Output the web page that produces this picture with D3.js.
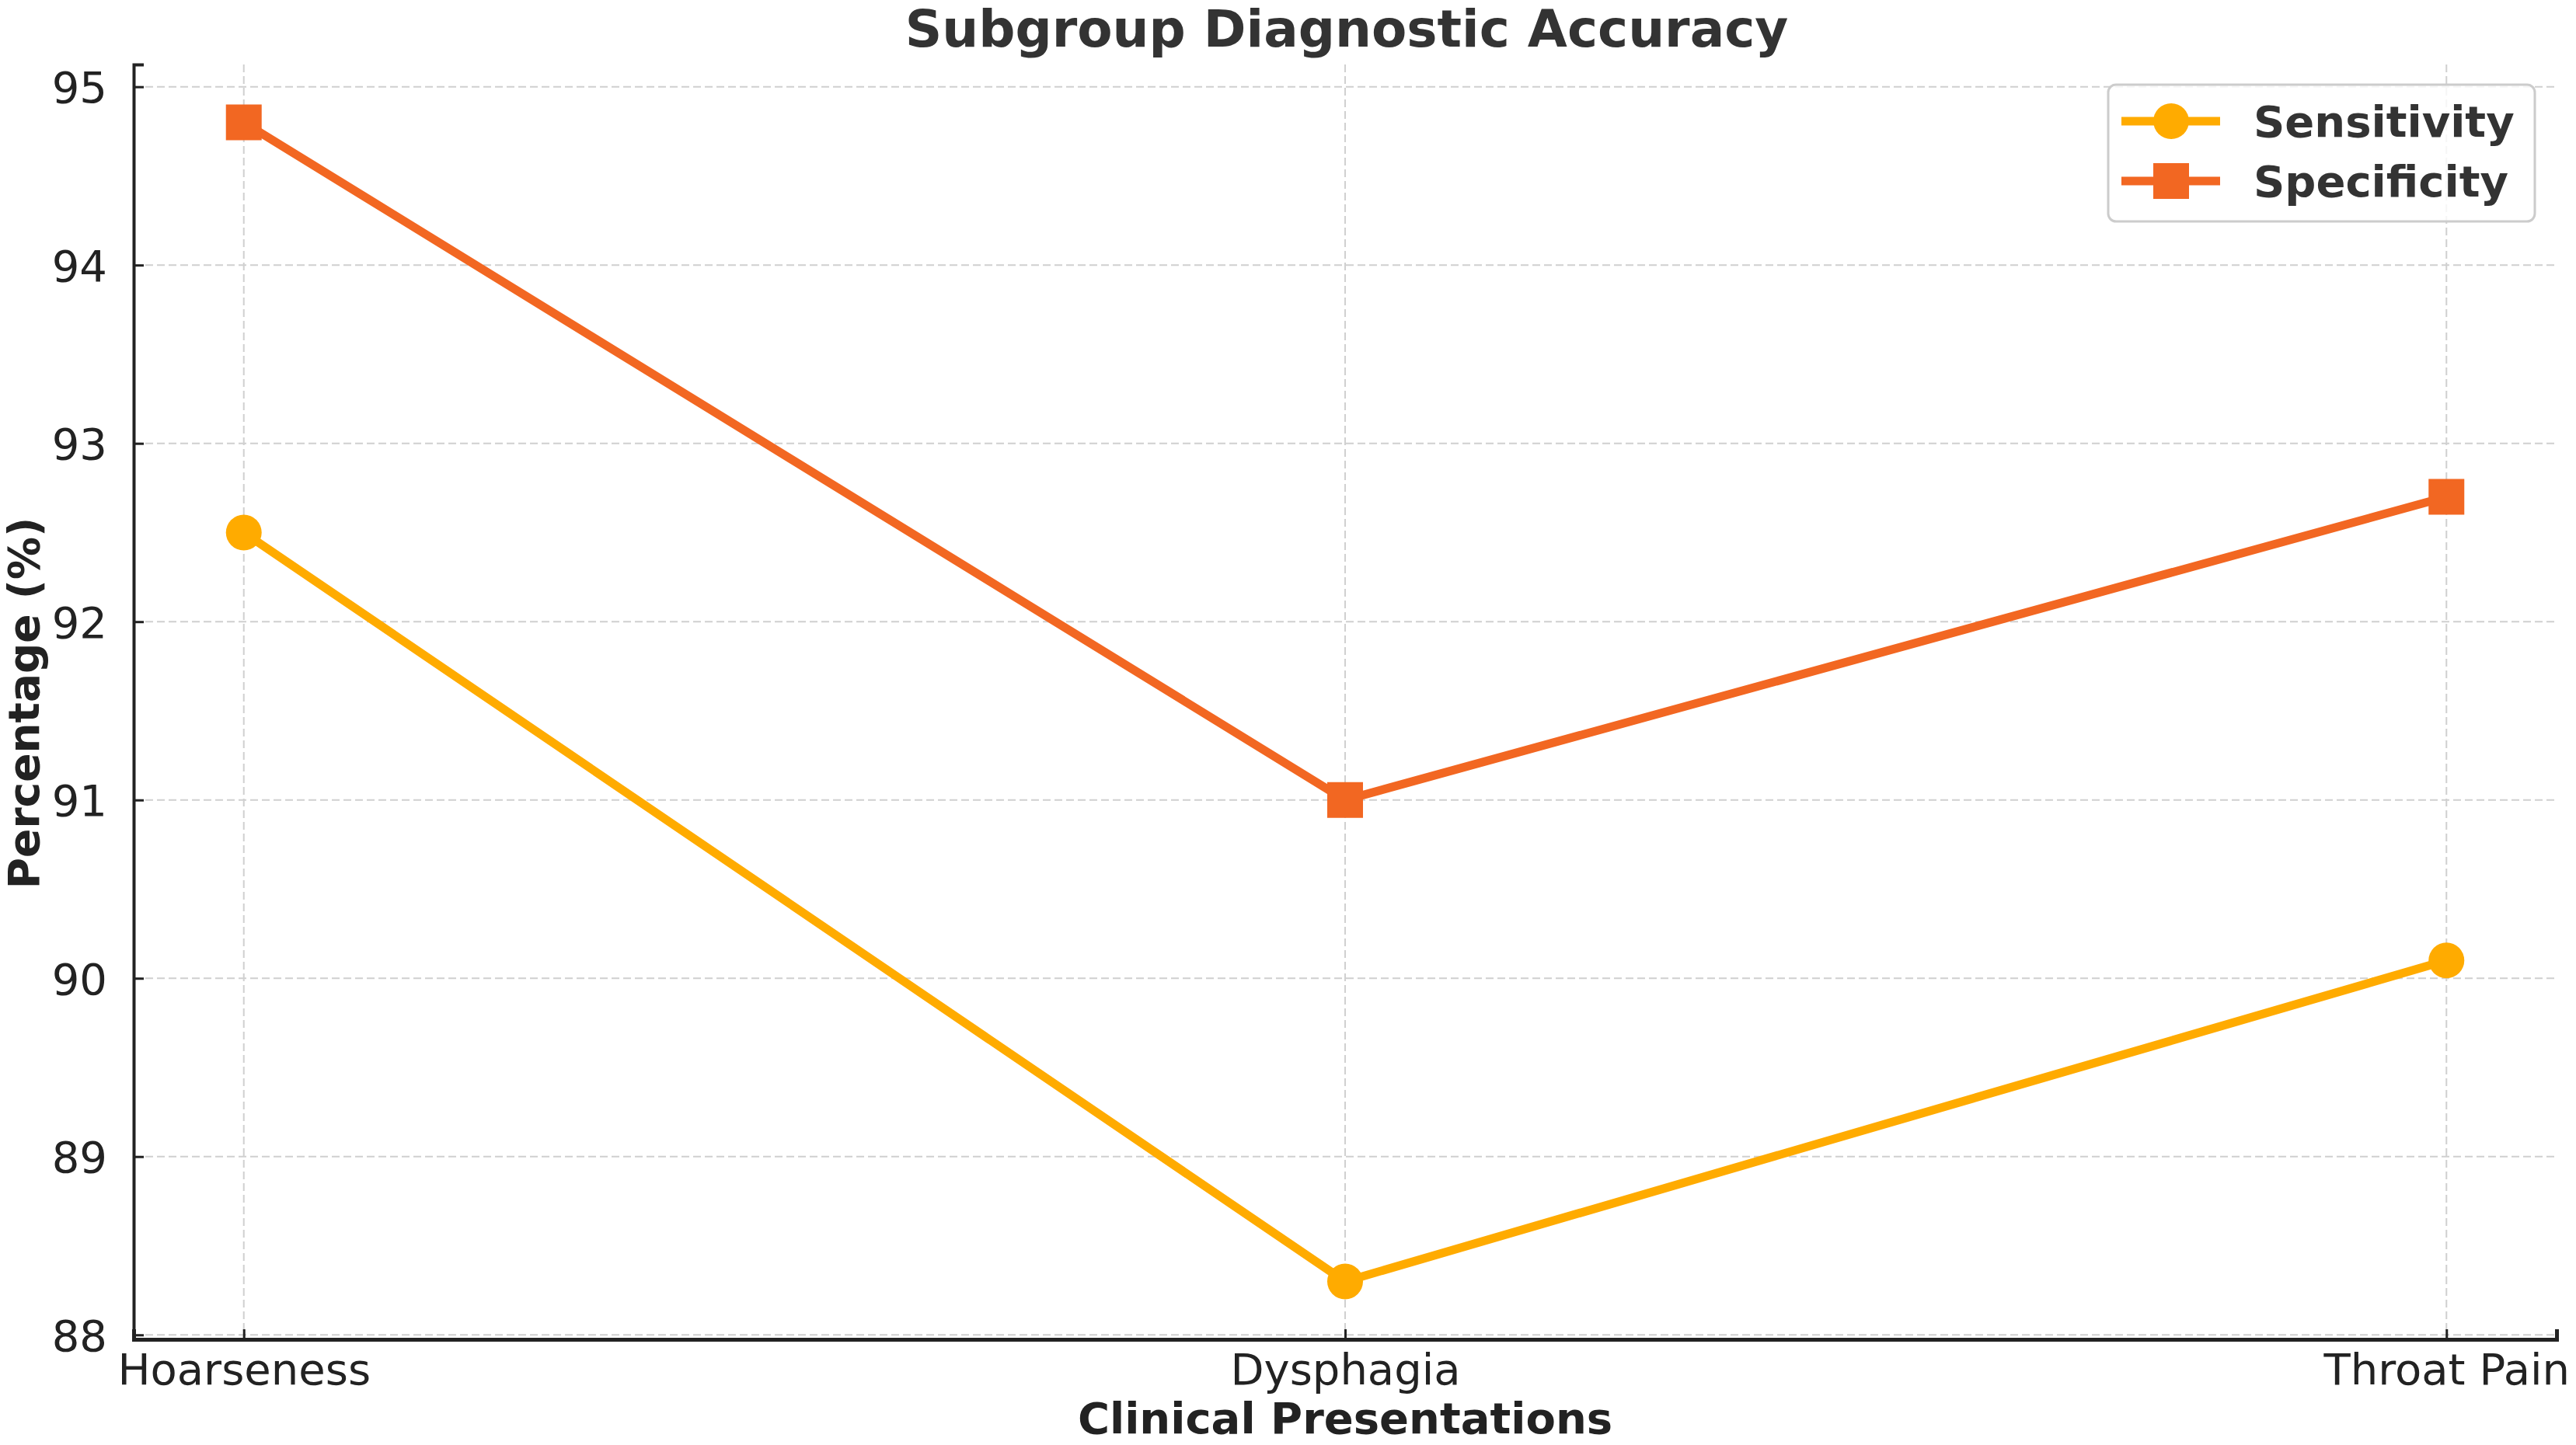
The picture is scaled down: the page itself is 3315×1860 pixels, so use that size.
<!DOCTYPE html>
<html>
<head>
<meta charset="utf-8">
<script src="https://cdn.jsdelivr.net/npm/d3@7"></script>
<style>
  body { margin: 0; background: #fff; }
  text { font-family: "DejaVu Sans", sans-serif; }
</style>
</head>
<body>
<div id="chart"></div>
<script>
// chart data
const categories = ["Hoarseness", "Dysphagia", "Throat Pain"];
const sensitivity = [92.5, 88.3, 90.1];
const specificity = [94.8, 91.0, 92.7];
const yTicks = [88, 89, 90, 91, 92, 93, 94, 95];
const seriesNames = ["Sensitivity", "Specificity"];

const width = 3315;
const height = 1860;

const svg = d3.select('#chart')
  .append('svg')
  .attr('width', width)
  .attr('height', height);

// scales (index based x, matplotlib style 5% margins)
const x = d3.scaleLinear()
  .domain([-0.1, 2.1])
  .range([172, 3290]);

const y = d3.scaleLinear()
  .domain([87.975, 95.125])
  .range([1724, 83]);

const plotLeft = x.range()[0], plotRight = x.range()[1];
const plotTop = y.range()[1], plotBottom = y.range()[0];

// grid lines
const grid = svg.append('g')
  .attr('stroke', '#d0d0d0')
  .attr('stroke-width', 2)
  .attr('stroke-dasharray', '10,5');

grid.selectAll('.hgrid')
  .data(yTicks)
  .enter()
  .append('line')
  .attr('x1', plotLeft)
  .attr('x2', plotRight)
  .attr('y1', d => y(d))
  .attr('y2', d => y(d));

grid.selectAll('.vgrid')
  .data(categories)
  .enter()
  .append('line')
  .attr('x1', (d, i) => x(i))
  .attr('x2', (d, i) => x(i))
  .attr('y1', plotTop)
  .attr('y2', plotBottom);

// axes with inward ticks
const yAxis = d3.axisLeft(y)
  .tickValues(yTicks)
  .tickSize(-13)
  .tickPadding(34)
  .tickFormat(d3.format('d'));

const gy = svg.append('g')
  .attr('transform', `translate(${plotLeft},0)`)
  .call(yAxis);

const xAxis = d3.axisBottom(x)
  .tickValues([0, 1, 2])
  .tickSize(-13)
  .tickPadding(15)
  .tickFormat(i => categories[i]);

const gx = svg.append('g')
  .attr('transform', `translate(0,${plotBottom})`)
  .call(xAxis);

gy.select('.domain').attr('stroke', '#222').attr('stroke-width', 4);
gx.select('.domain').attr('stroke', '#222').attr('stroke-width', 5);
svg.selectAll('.tick line').attr('stroke', '#222').attr('stroke-width', 3);
svg.selectAll('.tick text')
  .attr('font-size', 56)
  .attr('fill', '#222')
  .style('font-family', '"DejaVu Sans", sans-serif');
gy.selectAll('.tick text').attr('dy', '0.36em');
gx.selectAll('.tick text').attr('dy', '0.76em');

// lines and markers
const series = [
  { name: seriesNames[0], values: sensitivity, color: '#FFAB00', marker: 'circle' },
  { name: seriesNames[1], values: specificity, color: '#F26722', marker: 'square' }
];

const line = d3.line()
  .x((d, i) => x(i))
  .y(d => y(d));

series.forEach(s => {
  svg.append('path')
    .datum(s.values)
    .attr('fill', 'none')
    .attr('stroke', s.color)
    .attr('stroke-width', 11)
    .attr('stroke-linejoin', 'round')
    .attr('d', line);

  const symbol = d3.symbol()
    .type(s.marker === 'circle' ? d3.symbolCircle : d3.symbolSquare)
    .size(s.marker === 'circle' ? Math.PI * 23 * 23 : 46 * 46);

  svg.append('g')
    .selectAll('path')
    .data(s.values)
    .enter()
    .append('path')
    .attr('d', symbol)
    .attr('transform', (d, i) => `translate(${x(i)},${y(d)})`)
    .attr('fill', s.color);
});

// title and axis labels
svg.append('text')
  .attr('x', 1733)
  .attr('y', 60)
  .attr('text-anchor', 'middle')
  .attr('font-size', 66)
  .attr('font-weight', 'bold')
  .attr('fill', '#333')
  .text('Subgroup Diagnostic Accuracy');

svg.append('text')
  .attr('x', 1731)
  .attr('y', 1845)
  .attr('text-anchor', 'middle')
  .attr('font-size', 56)
  .attr('font-weight', 'bold')
  .attr('fill', '#222')
  .text('Clinical Presentations');

svg.append('text')
  .attr('transform', 'translate(50,905) rotate(-90)')
  .attr('text-anchor', 'middle')
  .attr('font-size', 55)
  .attr('font-weight', 'bold')
  .attr('fill', '#222')
  .text('Percentage (%)');

// legend
const legend = svg.append('g');
legend.append('rect')
  .attr('x', 2713)
  .attr('y', 109)
  .attr('width', 549)
  .attr('height', 176)
  .attr('rx', 10)
  .attr('fill', 'white')
  .attr('fill-opacity', 0.8)
  .attr('stroke', '#cccccc')
  .attr('stroke-width', 3);

const rows = legend.selectAll('.row')
  .data(series)
  .enter()
  .append('g')
  .attr('transform', (d, i) => `translate(0,${156 + i * 77})`);

rows.append('line')
  .attr('x1', 2730)
  .attr('x2', 2857)
  .attr('stroke', d => d.color)
  .attr('stroke-width', 11);

rows.append('path')
  .attr('d', d => d3.symbol()
    .type(d.marker === 'circle' ? d3.symbolCircle : d3.symbolSquare)
    .size(d.marker === 'circle' ? Math.PI * 23 * 23 : 46 * 46)())
  .attr('transform', 'translate(2794,0)')
  .attr('fill', d => d.color);

rows.append('text')
  .attr('x', 2900)
  .attr('dy', '0.36em')
  .attr('font-size', 56)
  .attr('font-weight', 'bold')
  .attr('fill', '#333')
  .text(d => d.name);
</script>
</body>
</html>
